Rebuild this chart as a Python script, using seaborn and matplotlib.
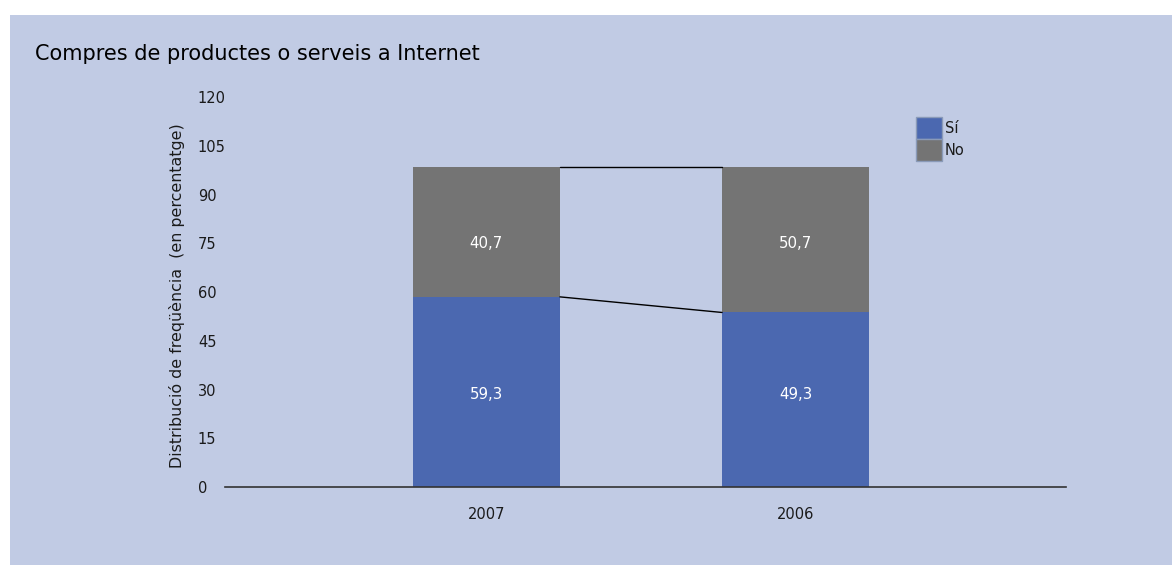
import numpy as np
import pandas as pd
import matplotlib
matplotlib.use("Agg")
import matplotlib.pyplot as plt
from matplotlib.patches import Rectangle, Patch
import seaborn as sns

# categories as they appear on the x axis
years = ["2007", "2006"]
# bar heights as drawn in the picture (the source chart draws them slightly off its own labels)
si_heights = [58.5, 53.7]
no_heights = [40.0, 44.8]
# value labels printed on the bars and the levels they sit at
si_labels = ["59,3", "49,3"]
no_labels = ["40,7", "50,7"]
si_label_level = 28.5
no_label_level = 75
yticks = [0, 15, 30, 45, 60, 75, 90, 105, 120]

BG = "#C1CBE4"
BLUE = "#4B68B0"
GREY = "#747474"
TXT = "#1a1a1a"

df = pd.DataFrame({
    "any": years,
    "si": si_heights,
    "total": np.array(si_heights) + np.array(no_heights),
})

sns.set_style("white")
plt.rcParams["font.family"] = ["DejaVu Sans"]

W, H = 1172, 565
fig = plt.figure(figsize=(W / 100, H / 100), dpi=100)
fig.patch.set_facecolor("white")
fig.patches.append(Rectangle((10 / W, 0), 1 - 10 / W, 1 - 15 / H,
                             transform=fig.transFigure, facecolor=BG,
                             edgecolor="none", zorder=-10))

ax = fig.add_axes([225 / W, 78 / H, 841 / W, 390 / H])
ax.set_facecolor("none")

bw = 0.476
sns.barplot(data=df, x="any", y="total", color=GREY, width=bw, ax=ax,
            saturation=1, edgecolor="none")
sns.barplot(data=df, x="any", y="si", color=BLUE, width=bw, ax=ax,
            saturation=1, edgecolor="none")

# series lines between the bars
x0, x1 = 0 + bw / 2, 1 - bw / 2
ax.plot([x0, x1], df["total"], color="black", lw=1)
ax.plot([x0, x1], df["si"], color="black", lw=1)

for i in range(len(years)):
    ax.text(i, si_label_level, si_labels[i], ha="center", va="center",
            color="white", fontsize=10.8)
    ax.text(i, no_label_level, no_labels[i], ha="center", va="center",
            color="white", fontsize=10.8)

ax.set_xlim(-0.845, 1.874)
ax.set_ylim(0, 120)
ax.set_yticks(yticks)
ax.tick_params(axis="y", length=0, pad=19.5, labelsize=10.5, labelcolor=TXT)
for lab in ax.get_yticklabels():
    lab.set_horizontalalignment("left")
ax.tick_params(axis="x", length=0, pad=14.5, labelsize=10.5, labelcolor=TXT)

sns.despine(ax=ax, left=True)
ax.spines["bottom"].set_color("#333333")
ax.spines["bottom"].set_linewidth(1.2)

ax.set_xlabel("")
ax.set_ylabel("Distribució de freqüència  (en percentatge)", fontsize=11.4,
              color=TXT)
ax.yaxis.set_label_coords(-0.0476, 0.491)

fig.text(35 / W, 1 - 54 / H, "Compres de productes o serveis a Internet",
         fontsize=15, va="center", ha="left", color="black")

handles = [Patch(facecolor=BLUE, edgecolor="#8a9ab8", label="Sí"),
           Patch(facecolor=GREY, edgecolor="#8a9ab8", label="No")]
fig.legend(handles=handles, loc="upper left",
           bbox_to_anchor=(906 / W, 1 - 107 / H), frameon=False,
           fontsize=10.5, handlelength=1.75, handleheight=1.95,
           handletextpad=0.2, labelspacing=0.0, borderpad=0.2,
           labelcolor=TXT)

fig.savefig("out.png", dpi=100)
